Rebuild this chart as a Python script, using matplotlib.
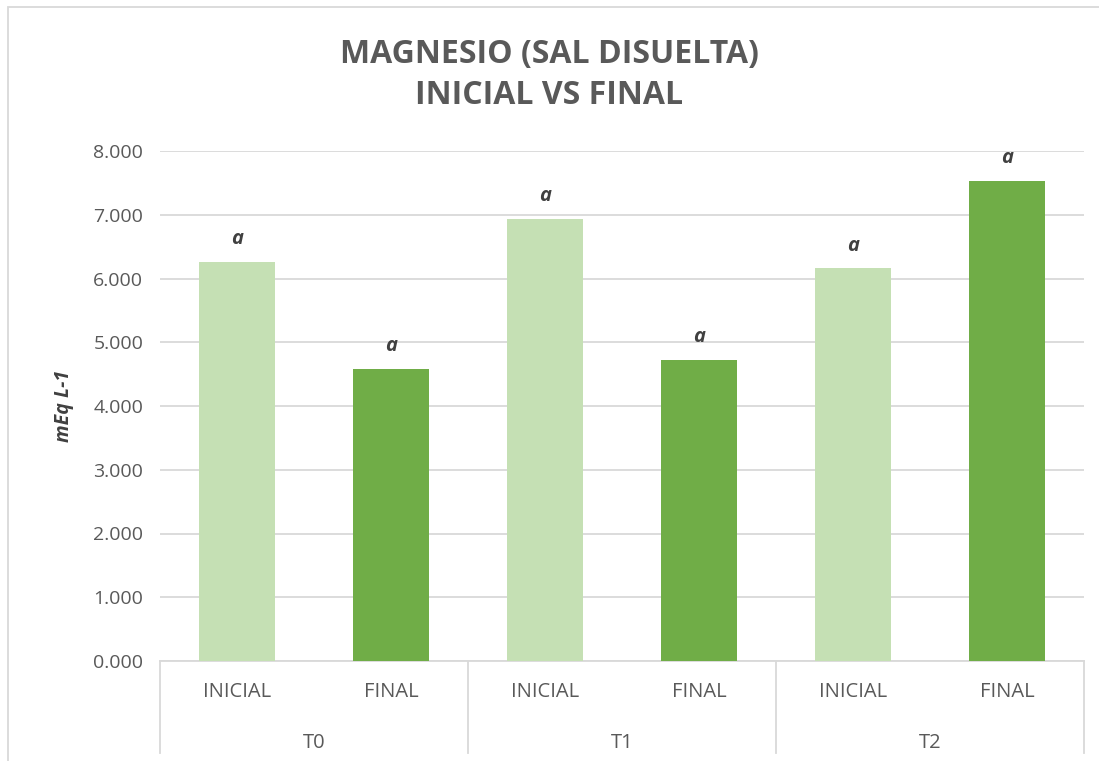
import numpy as np
import matplotlib.pyplot as plt
from matplotlib.patches import Rectangle

# Data
groups = ['T0', 'T1', 'T2']
stages = ['INICIAL', 'FINAL']
values = [6.26, 4.58, 6.93, 4.72, 6.16, 7.53]
letters = ['a', 'a', 'a', 'a', 'a', 'a']
colors = ['#c5e0b4', '#70ad47'] * 3

plt.rcParams['font.family'] = ['Open Sans', 'DejaVu Sans']

W, H = 1099, 761
fig = plt.figure(figsize=(W / 100, H / 100), dpi=100)
ax = fig.add_axes([160 / W, 1 - 661 / H, (1084 - 160) / W, (661 - 151) / H])

x = np.arange(len(values))
ax.bar(x, values, width=0.49, color=colors, zorder=3)

for xi, v, lab in zip(x, values, letters):
    ax.text(xi, v + 0.2, lab, ha='center', va='bottom', fontsize=14.5,
            fontweight='bold', fontstyle='italic', color='#404040')

ax.set_xlim(-0.5, len(values) - 0.5)
ax.set_ylim(0, 8)
ax.set_yticks(np.arange(0, 9, 1))
ax.set_yticklabels([f'{t:.3f}' for t in range(9)], fontsize=14, color='#595959')
ax.tick_params(axis='y', length=0, pad=12)
ax.set_xticks([])
ax.yaxis.grid(True, color='#d9d9d9', linewidth=1.3, zorder=0)
for s in ['top', 'right', 'left']:
    ax.spines[s].set_visible(False)
ax.spines['bottom'].set_color('#d9d9d9')
ax.spines['bottom'].set_linewidth(1.3)

ax.set_ylabel('mEq L-1', fontsize=14, fontweight='bold', fontstyle='italic',
              color='#404040', labelpad=14)

# multi-level category axis
trans = ax.get_xaxis_transform()
for i, st in enumerate(stages * len(groups)):
    ax.text(i, -31 / 510, st, transform=trans, ha='center', va='center',
            fontsize=14.5, color='#595959')
for g, name in enumerate(groups):
    ax.text(2 * g + 0.5, -82 / 510, name, transform=trans, ha='center',
            va='center', fontsize=14.5, color='#595959')
for b in np.arange(-0.5, len(values), 2):
    ax.plot([b, b], [0, -92 / 510], transform=trans, color='#d9d9d9',
            linewidth=1.3, clip_on=False)

fig.text(0.5, 1 - 55 / H, 'MAGNESIO (SAL DISUELTA)', ha='center', va='center',
         fontsize=23, fontweight='bold', color='#595959')
fig.text(0.5, 1 - 96 / H, 'INICIAL VS FINAL', ha='center', va='center',
         fontsize=23, fontweight='bold', color='#595959')

fig.patches.append(Rectangle((8 / W, -0.1), 1.2, 1 - 7 / H + 0.1,
                             transform=fig.transFigure, fill=False,
                             edgecolor='#d9d9d9', linewidth=1.3))

fig.savefig('out.png', dpi=100)
